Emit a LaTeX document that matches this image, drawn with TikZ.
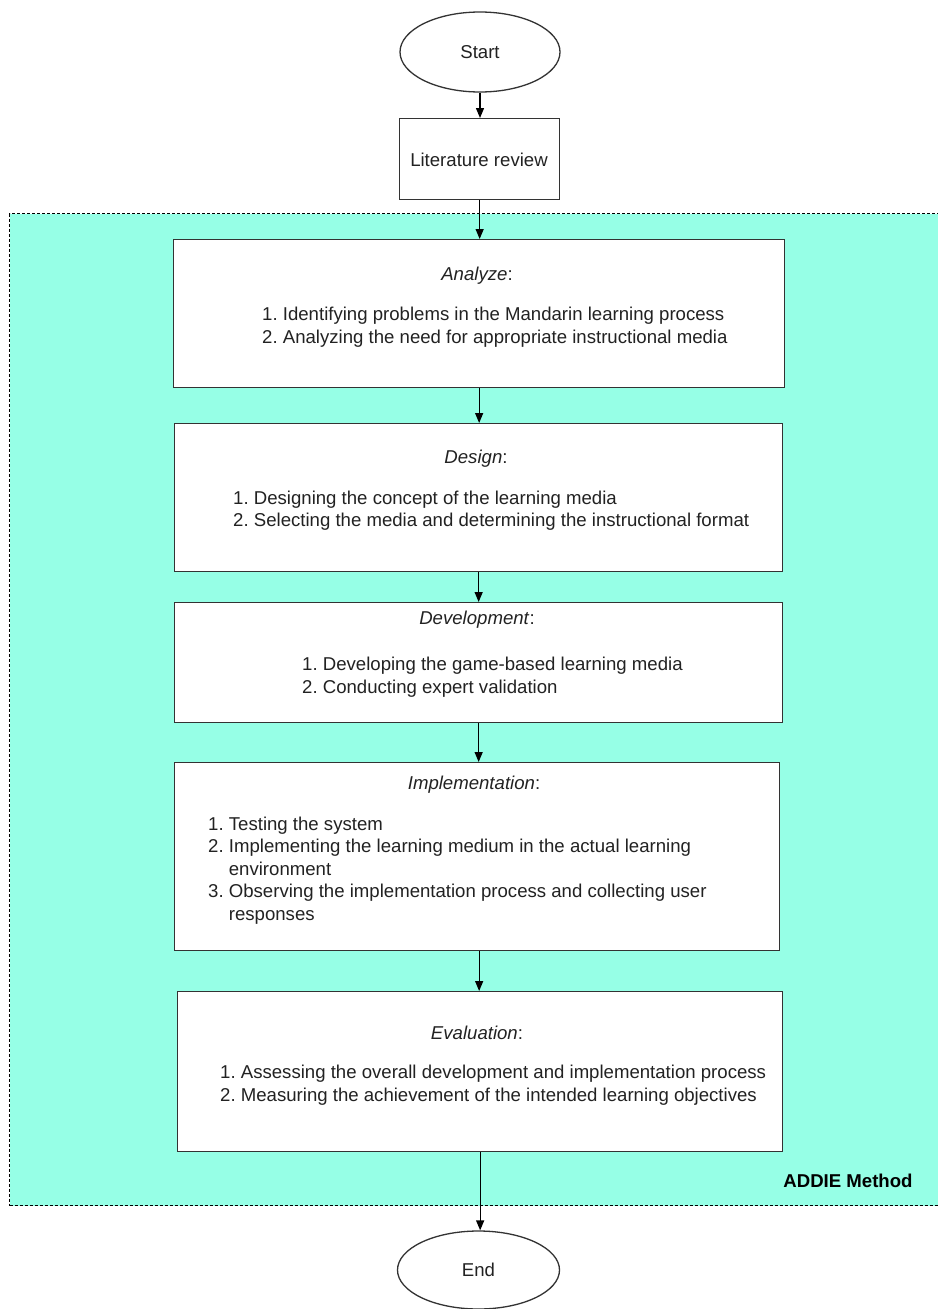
\documentclass[tikz,border=0pt]{standalone}
\usepackage{fontspec}
\setmainfont{Liberation Sans}
\usetikzlibrary{arrows.meta,shapes.geometric,calc}
\definecolor{aqua}{RGB}{150,255,230}
\definecolor{txt}{RGB}{34,34,34}
\definecolor{edge}{RGB}{51,51,51}
\newcommand\itm[1]{\makebox[1.112em][l]{#1}}
\begin{document}
\begin{tikzpicture}[x=1pt,y=-1pt,
  every node/.style={font=\fontsize{18.6}{22.5}\selectfont, text=txt},
  box/.style={draw=edge, line width=1.3pt, fill=white, inner sep=0, anchor=north west},
  term/.style={ellipse, draw=edge, line width=1.3pt, fill=white, inner sep=0},
  container/.style={draw=black, line width=1.1pt, dash pattern=on 3pt off 2pt, fill=aqua, inner sep=0, anchor=north west},
  ttl/.style={inner sep=0},
  lst/.style={align=left, inner sep=0, anchor=west},
  arr/.style={draw=black, line width=1.3pt, -{Triangle[length=10pt,width=8pt]}}]
\useasboundingbox (0,0) rectangle (937,1309);
\fill[white] (0,0) rectangle (937,1309);

\node[container, minimum width=929, minimum height=992] (addie) at (9,213) {};
\node[font=\bfseries\fontsize{18.6}{22.5}\selectfont, text=black, inner sep=0] (addiel) at (848,1181) {ADDIE Method};

\node[term, minimum width=160, minimum height=80] (start) at (480,52) {Start};
\node[box, minimum width=160, minimum height=81] (lit) at (399,118) {};
\node[ttl] (litt) at (479,160) {Literature review};

\node[box, minimum width=611, minimum height=148] (an) at (173,239) {};
\node[ttl] (ant) at (477,275.5) {\textit{Analyze}:};
\node[lst] (anl) at (262,327) {\itm{1.}Identifying problems in the Mandarin learning process\\
\itm{2.}Analyzing the need for appropriate instructional media};

\node[box, minimum width=608, minimum height=148] (de) at (174,423) {};
\node[ttl] (det) at (476,458.5) {\textit{Design}:};
\node[lst] (del) at (233,510.5) {\itm{1.}Designing the concept of the learning media\\
\itm{2.}Selecting the media and determining the instructional format};

\node[box, minimum width=608, minimum height=120] (dv) at (174,602) {};
\node[ttl] (dvt) at (477,620) {\textit{Development}:};
\node[lst] (dvl) at (302,677) {\itm{1.}Developing the game-based learning media\\
\itm{2.}Conducting expert validation};

\node[box, minimum width=605, minimum height=188] (im) at (174,762) {};
\node[ttl] (imt) at (474,784.5) {\textit{Implementation}:};
\node[lst] (iml) at (208,870.5) {\itm{1.}Testing the system\\
\itm{2.}Implementing the learning medium in the actual learning\\
\itm{}environment\\
\itm{3.}Observing the implementation process and collecting user\\
\itm{}responses};

\node[box, minimum width=605, minimum height=160] (ev) at (177,991) {};
\node[ttl] (evt) at (477,1032.5) {\textit{Evaluation}:};
\node[lst] (evl) at (220,1085) {\itm{1.}Assessing the overall development and implementation process\\
\itm{2.}Measuring the achievement of the intended learning objectives};

\node[term, minimum width=162, minimum height=78] (end) at (478.5,1270) {End};

\draw[arr] (start.south) -- (start.south |- lit.north);
\draw[arr] (lit.south) -- (lit.south |- an.north);
\draw[arr] (an.south) -- (an.south |- de.north);
\draw[arr] (de.south) -- (de.south |- dv.north);
\draw[arr] (dv.south) -- (dv.south |- im.north);
\draw[arr] ($(im.south)+(2,0)$) -- ($(im.south |- ev.north)+(2,0)$);
\draw[arr] (ev.south) -- (ev.south |- end.north);
\end{tikzpicture}
\end{document}
